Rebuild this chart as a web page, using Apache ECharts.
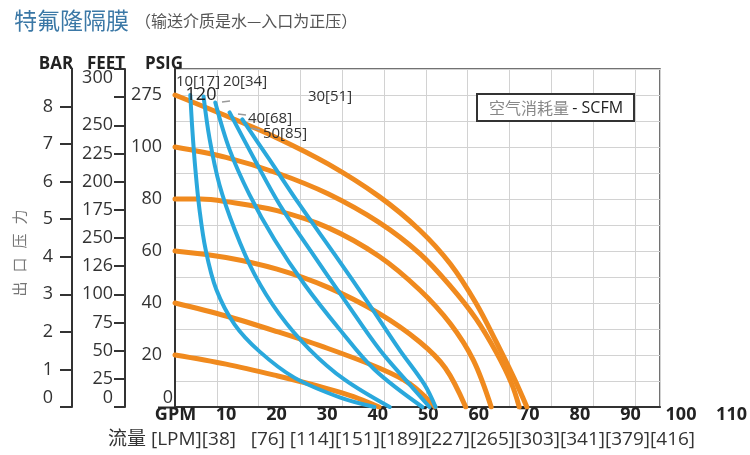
<!DOCTYPE html>
<html><head><meta charset="utf-8">
<script src="https://cdn.jsdelivr.net/npm/echarts@6/dist/echarts.min.js"></script>
<style>html,body{margin:0;padding:0;background:#fff}#c{width:750px;height:455px}</style>
</head><body><div id="c"></div>
<script>
// ---- tick labels ----
const gpmLabels = ['GPM','10','20','30','40','50','60','70','80','90','100','110'];
const lpmLabels = ['[38]','[76]','[114]','[151]','[189]','[227]','[265]','[303]','[341]','[379]','[416]'];
const barLabels = ['0','1','2','3','4','5','6','7','8'];
const feetLabels = ['0','25','50','75','100','126','250','175','200','225','250','','300'];
const psigLabels = ['0','20','40','60','80','100','275'];
const scfmLabels = ['10[17]','20[34]','30[51]','40[68]','50[85]'];

// ---- pressure curves (GPM, PSIG) ----
const p120 = [[0,120],[10,112],[20,103.5],[30,93.5],[40,81],[48,68],[54,55],[59,40],[63,25],[66.5,11],[69,0]];
const p100 = [[0,100],[10,96],[20,90],[30,82],[40,71],[48,59],[54,46.5],[59,34],[63,21],[66,9],[67.5,0]];
const p80  = [[0,80],[5,80],[10,79],[20,75.5],[30,69],[40,58],[48,45],[54,32],[58.5,18],[62,0]];
const p60  = [[0,60],[10,57.5],[20,53],[30,46],[40,36],[48,25],[53,15],[57,0]];
const p40  = [[0,40],[10,35],[20,29],[30,22.5],[40,15],[46,9],[51,0]];
const p20  = [[0,20],[10,16.5],[20,12],[30,7],[35,4],[40,0]];

// ---- air consumption curves (GPM, PSIG) ----
const a10 = [[3.0,120],[3.4,106.7],[4.0,91.3],[4.8,76.0],[6.0,60.6],[8.1,45.2],[11.7,31.7],[16.6,21.3],[23.4,11.3],[32.3,3.7],[39.1,0]];
const a20 = [[5.6,119.4],[6.8,102.9],[8.7,85.6],[11.7,68.3],[15.6,51.0],[20.5,35.6],[26.4,22.1],[33.2,10.6],[42.1,0]];
const a30 = [[7.9,117.1],[10.7,99.0],[14.6,81.7],[19.5,64.4],[25.4,47.1],[32.3,29.8],[39.1,14.4],[48.5,0]];
const a40 = [[10.7,113.3],[15.6,95.2],[20.5,77.9],[26.4,60.6],[33.2,41.3],[40.1,22.1],[46.0,8.7],[49.9,0]];
const a50 = [[13.2,110.6],[18.5,95.2],[24.4,77.9],[31.3,58.7],[38.1,39.4],[44.0,22.1],[48.9,8.7],[51.1,0]];

const FONT = "'Open Sans','Noto Sans CJK SC',sans-serif";
const CJK = "'Noto Sans CJK SC',sans-serif";
const ORANGE = '#f08a1e', BLUE = '#2aa8dc';

const chart = echarts.init(document.getElementById('c'), null, {renderer:'canvas'});

function line(data, color, width){
  return {type:'line', xAxisIndex:0, yAxisIndex:0, data, smooth:0.35, showSymbol:false, symbol:'none',
    lineStyle:{color, width, cap:'round'}, silent:true, animation:false};
}

const series = [
  line(p20, ORANGE, 5), line(p40, ORANGE, 5), line(p60, ORANGE, 5),
  line(p80, ORANGE, 5), line(p100, ORANGE, 5), line(p120, ORANGE, 5),
  line(a10, BLUE, 4), line(a20, BLUE, 4), line(a30, BLUE, 4), line(a40, BLUE, 4), line(a50, BLUE, 4)
];

const axisBlack = {show:true, lineStyle:{color:'#333', width:2}};
const barTickValues = barLabels.map((s, i) => i);

const option = {
  animation:false,
  backgroundColor:'#fff',
  grid:[
    {left:175, top:69, width:485, height:338, show:true, borderColor:'#444', borderWidth:1.5, backgroundColor:'transparent'},
    {left:175.5, top:69, width:561, height:338, show:false}
  ],
  xAxis:[
    {gridIndex:0, type:'value', min:0, max:95.1, interval:8.2, axisLine:axisBlack, axisTick:{show:false},
     axisLabel:{show:false}, splitLine:{show:true, lineStyle:{color:'#d2d2d2', width:1}}},
    {gridIndex:1, type:'value', min:0, max:110, interval:10, axisLine:{show:false}, axisTick:{show:false},
     splitLine:{show:false}, axisLabel:{show:true, margin:-1, showMinLabel:true, showMaxLabel:true,
       fontFamily:FONT, fontSize:18, fontWeight:'bold', color:'#222',
       formatter:v=>gpmLabels[Math.round(v/10)]}}
  ],
  yAxis:[
    {gridIndex:0, type:'value', min:0, max:130, interval:10, axisLine:axisBlack, axisTick:{show:false},
     splitLine:{show:true, lineStyle:{color:'#d2d2d2', width:1}},
     axisLabel:{margin:2, fontFamily:FONT, fontSize:18, color:'#333',
       formatter:v=>{ if(v%20!==0||v>120) return ''; const s=psigLabels[v/20]; return v===0?'{z|'+s+'}':'{n|'+s+'}'; },
       rich:{n:{fontFamily:FONT,fontSize:18,color:'#333',padding:[0,11,0,0]}, z:{fontFamily:FONT,fontSize:18,color:'#333',padding:[0,0,18,0]}}}},
    {gridIndex:0, type:'value', position:'left', offset:103, min:0, max:9, interval:1, axisLine:axisBlack,
     axisTick:{show:true, length:12, customValues:barTickValues, lineStyle:{color:'#333', width:2}}, splitLine:{show:false},
     axisLabel:{margin:19, fontFamily:FONT, fontSize:18, color:'#333', customValues:barTickValues,
       formatter:v=>{ if(v>8) return ''; return v===0?'{z|0}':'{n|'+barLabels[v]+'}'; },
       rich:{n:{fontFamily:FONT,fontSize:18,color:'#333'}, z:{fontFamily:FONT,fontSize:18,color:'#333',padding:[0,0,18,0]}}}},
    {gridIndex:0, type:'value', position:'left', offset:50, min:0, max:300, interval:25, axisLine:axisBlack,
     axisTick:{show:true, length:11, lineStyle:{color:'#333', width:2}}, splitLine:{show:false},
     axisLabel:{margin:12, fontFamily:FONT, fontSize:18, color:'#333', showMaxLabel:true,
       formatter:v=>{ const i=Math.round(v/25); const s=feetLabels[i]; if(!s) return '';
         if(i===0) return '{z|'+s+'}'; if(i===12) return '{t|'+s+'}'; return '{n|'+s+'}'; },
       rich:{n:{fontFamily:FONT,fontSize:18,color:'#333'}, z:{fontFamily:FONT,fontSize:18,color:'#333',padding:[0,0,18,0]},
             t:{fontFamily:FONT,fontSize:18,color:'#333',padding:[18,0,0,0]}}}},
    {gridIndex:1, type:'value', min:0, max:130, show:false}
  ],
  series,
  graphic:[
    {type:'text', x:14, y:20, style:{text:'特氟隆隔膜', fontFamily:CJK, fontSize:23, fill:'#3b78a6', verticalAlign:'middle'}},
    {type:'text', x:135, y:21, style:{text:'（输送介质是水—入口为正压）', fontFamily:CJK, fontSize:16, fill:'#555', verticalAlign:'middle'}},
    {type:'text', x:56, y:64, style:{text:'BAR', fontFamily:FONT, fontSize:17, fontWeight:'bold', fill:'#222', align:'center', verticalAlign:'middle'}},
    {type:'text', x:106, y:64, style:{text:'FEET', fontFamily:FONT, fontSize:17, fontWeight:'bold', fill:'#222', align:'center', verticalAlign:'middle'}},
    {type:'text', x:164, y:64, style:{text:'PSIG', fontFamily:FONT, fontSize:17, fontWeight:'bold', fill:'#222', align:'center', verticalAlign:'middle'}},
    {type:'text', x:19, y:289, rotation:Math.PI/2, style:{text:'出', fontFamily:CJK, fontSize:15, fill:'#777', align:'center', verticalAlign:'middle'}},
    {type:'text', x:19, y:265, rotation:Math.PI/2, style:{text:'口', fontFamily:CJK, fontSize:15, fill:'#777', align:'center', verticalAlign:'middle'}},
    {type:'text', x:19, y:241, rotation:Math.PI/2, style:{text:'压', fontFamily:CJK, fontSize:15, fill:'#777', align:'center', verticalAlign:'middle'}},
    {type:'text', x:19, y:217, rotation:Math.PI/2, style:{text:'力', fontFamily:CJK, fontSize:15, fill:'#777', align:'center', verticalAlign:'middle'}},
    {type:'line', shape:{x1:158, y1:407.5, x2:175, y2:407.5}, style:{stroke:'#333', lineWidth:2}},
    {type:'rect', shape:{x:477, y:94, width:157, height:27}, style:{fill:'#fff', stroke:'#333', lineWidth:2}, z:10},
    {type:'text', x:556, y:108, z:11, style:{rich:{a:{fontFamily:CJK, fontSize:16, fill:'#888'}, b:{fontFamily:FONT, fontSize:16, fill:'#222'}},
      text:'{a|空气消耗量} {b|- SCFM}', align:'center', verticalAlign:'middle'}},
    {type:'text', x:198, y:82, z:12, style:{text:scfmLabels[0], fontFamily:FONT, fontSize:15, fill:'#333', align:'center', verticalAlign:'middle'}},
    {type:'text', x:245, y:82, z:12, style:{text:scfmLabels[1], fontFamily:FONT, fontSize:15, fill:'#333', align:'center', verticalAlign:'middle'}},
    {type:'text', x:330, y:97, z:12, style:{text:scfmLabels[2], fontFamily:FONT, fontSize:15, fill:'#333', align:'center', verticalAlign:'middle'}},
    {type:'text', x:270, y:119, z:12, style:{text:scfmLabels[3], fontFamily:FONT, fontSize:15, fill:'#333', align:'center', verticalAlign:'middle'}},
    {type:'text', x:285, y:134, z:12, style:{text:scfmLabels[4], fontFamily:FONT, fontSize:15, fill:'#333', align:'center', verticalAlign:'middle'}},
    {type:'text', x:201, y:95, z:12, style:{text:'120', fontFamily:FONT, fontSize:18, fill:'#222', align:'center', verticalAlign:'middle'}},
    {type:'line', z:12, shape:{x1:222, y1:102, x2:230, y2:101}, style:{stroke:'#999', lineWidth:1.5}},
    {type:'line', z:12, shape:{x1:238, y1:114, x2:246, y2:115}, style:{stroke:'#999', lineWidth:1.5}},
    {type:'line', z:12, shape:{x1:251, y1:128, x2:260, y2:130}, style:{stroke:'#999', lineWidth:1.5}},
    {type:'text', x:108, y:440, style:{text:'流量 [LPM]' + lpmLabels[0] + '   ' + lpmLabels[1] + ' ' + lpmLabels.slice(2).join(''),
      fontFamily:FONT, fontSize:19, fill:'#333', verticalAlign:'middle'}}
  ]
};
chart.setOption(option);
</script></body></html>
